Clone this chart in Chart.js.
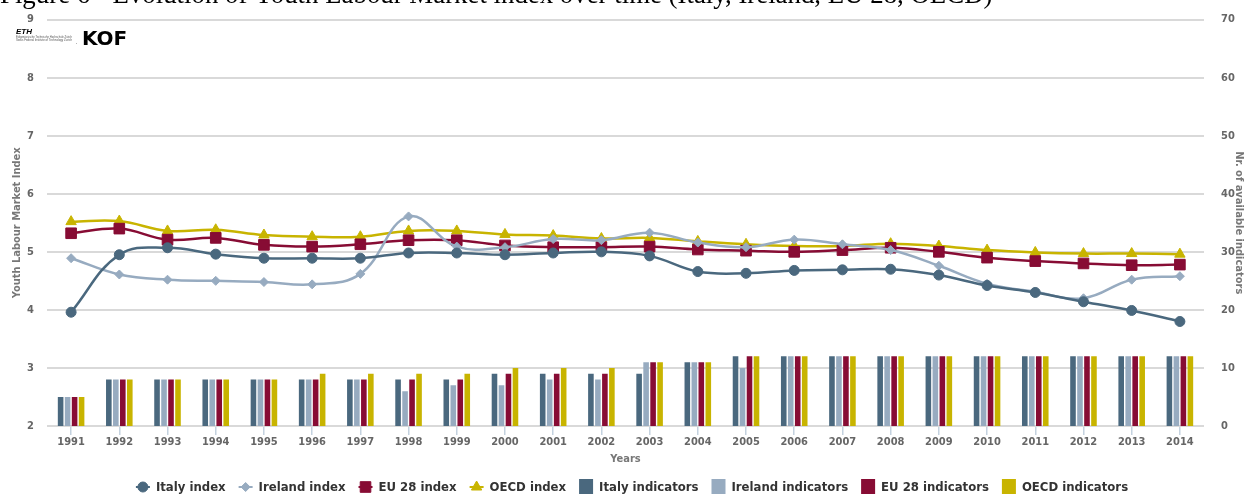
<!doctype html>
<html lang="en">
<head>
<meta charset="utf-8">
<style>
    html, body { margin: 0; padding: 0; background: #fff; }
    #wrap { width: 1245px; height: 494px; }
</style>
</head>
<body>
<div id="wrap"><canvas id="myChart" width="1245" height="494"></canvas></div>

<script src="https://cdn.jsdelivr.net/npm/chart.js"></script>
<script>
    // Data
    const years = ['1991', '1992', '1993', '1994', '1995', '1996', '1997', '1998', '1999', '2000', '2001', '2002',
                   '2003', '2004', '2005', '2006', '2007', '2008', '2009', '2010', '2011', '2012', '2013', '2014'];

    const italyIndex   = [3.96, 4.95, 5.07, 4.96, 4.89, 4.89, 4.89, 4.98, 4.98, 4.95, 4.98, 5.00,
                          4.93, 4.66, 4.63, 4.68, 4.69, 4.70, 4.60, 4.42, 4.30, 4.14, 3.99, 3.80];
    const irelandIndex = [4.89, 4.61, 4.52, 4.50, 4.48, 4.44, 4.62, 5.61, 5.09, 5.08, 5.22, 5.20,
                          5.33, 5.16, 5.08, 5.21, 5.13, 5.03, 4.76, 4.45, 4.31, 4.20, 4.52, 4.58];
    const eu28Index    = [5.32, 5.40, 5.21, 5.24, 5.12, 5.09, 5.13, 5.20, 5.20, 5.11, 5.08, 5.08,
                          5.09, 5.04, 5.02, 5.00, 5.03, 5.07, 5.00, 4.90, 4.84, 4.80, 4.77, 4.78];
    const oecdIndex    = [5.52, 5.53, 5.36, 5.38, 5.29, 5.26, 5.26, 5.36, 5.36, 5.30, 5.28, 5.23,
                          5.24, 5.18, 5.13, 5.10, 5.10, 5.14, 5.10, 5.03, 4.99, 4.97, 4.97, 4.96];

    const italyIndicators   = [5, 8, 8, 8, 8, 8, 8, 8, 8, 9, 9, 9, 9, 11, 12, 12, 12, 12, 12, 12, 12, 12, 12, 12];
    const irelandIndicators = [5, 8, 8, 8, 8, 8, 8, 6, 7, 7, 8, 8, 11, 11, 10, 12, 12, 12, 12, 12, 12, 12, 12, 12];
    const eu28Indicators    = [5, 8, 8, 8, 8, 8, 8, 8, 8, 9, 9, 9, 11, 11, 12, 12, 12, 12, 12, 12, 12, 12, 12, 12];
    const oecdIndicators    = [5, 8, 8, 8, 8, 9, 9, 9, 9, 10, 10, 10, 11, 11, 12, 12, 12, 12, 12, 12, 12, 12, 12, 12];

    const COLORS = {
        italy: '#4a687e',
        ireland: '#97abc0',
        eu: '#870c34',
        oecd: '#c8b400'
    };

    const FAMILY = '"DejaVu Sans Condensed", "DejaVu Sans", sans-serif';
    const tickFont = { family: FAMILY, size: 11, weight: 'bold' };

    function lineSet(label, data, color, style, radius) {
        return {
            type: 'line',
            label: label,
            data: data,
            yAxisID: 'y',
            borderColor: color,
            backgroundColor: color,
            borderWidth: 2.5,
            tension: 0.4,
            pointStyle: style,
            pointRadius: radius,
            pointBorderWidth: 1,
            order: 1
        };
    }

    function barSet(label, data, color) {
        return {
            type: 'bar',
            label: label,
            data: data,
            yAxisID: 'y1',
            backgroundColor: color,
            borderWidth: 0,
            barPercentage: 0.8,
            categoryPercentage: 0.58,
            order: 2
        };
    }

    // caption (cut off at the top), logo and legend row
    const decorations = {
        id: 'decorations',
        afterDraw(chart) {
            const ctx = chart.ctx;
            ctx.save();

            // figure caption, only its lower part is visible
            ctx.fillStyle = '#000';
            ctx.textBaseline = 'alphabetic';
            ctx.textAlign = 'left';
            const caption = 'Figure 6 - Evolution of Youth Labour Market index over time (Italy, Ireland, EU 28, OECD)';
            ctx.font = '22px "Liberation Serif"';
            const w = ctx.measureText(caption).width;
            ctx.font = (22 * 993 / w).toFixed(2) + 'px "Liberation Serif"';
            ctx.fillText(caption, 0, 3);

            // ETH / KOF logo
            ctx.font = 'italic bold 8px "Liberation Sans"';
            ctx.fillText('ETH', 16, 34);
            ctx.fillStyle = '#555';
            ctx.font = '3px "Liberation Sans"';
            ctx.fillText('Eidgenössische Technische Hochschule Zürich', 16, 38, 56);
            ctx.fillText('Swiss Federal Institute of Technology Zurich', 16, 41, 56);
            ctx.fillStyle = '#000';
            ctx.font = 'bold 4px "Liberation Sans"';
            ctx.fillText('.', 76, 44);
            ctx.font = '900 20px "DejaVu Sans"';
            ctx.fillText('KOF', 82, 45);

            // legend
            ctx.font = 'bold 13px ' + FAMILY;
            ctx.textBaseline = 'middle';
            const y = 487;
            const sets = chart.data.datasets;
            const widths = sets.map(ds => 14 + 6 + ctx.measureText(ds.label).width);
            const gap = 13;
            const total = widths.reduce((a, b) => a + b, 0) + gap * (sets.length - 1);
            let x = 632 - total / 2;
            sets.forEach((ds, i) => {
                ctx.fillStyle = ds.backgroundColor;
                ctx.strokeStyle = ds.borderColor || ds.backgroundColor;
                if (ds.type === 'line') {
                    ctx.lineWidth = 2;
                    ctx.beginPath();
                    ctx.moveTo(x, y);
                    ctx.lineTo(x + 14, y);
                    ctx.stroke();
                    ctx.lineWidth = 1;
                    Chart.helpers.drawPoint(ctx, {
                        pointStyle: ds.pointStyle,
                        radius: ds.pointRadius,
                        rotation: 0,
                        borderWidth: 1
                    }, x + 7, y);
                } else {
                    ctx.fillRect(x, y - 8, 14, 16);
                }
                ctx.fillStyle = '#333';
                ctx.fillText(ds.label, x + 20, y + 0.5);
                x += widths[i] + gap;
            });

            ctx.restore();
        }
    };

    const ctx = document.getElementById('myChart');

    new Chart(ctx, {
        data: {
            labels: years,
            datasets: [
                lineSet('Italy index', italyIndex, COLORS.italy, 'circle', 5),
                lineSet('Ireland index', irelandIndex, COLORS.ireland, 'rectRot', 4.5),
                lineSet('EU 28 index', eu28Index, COLORS.eu, 'rect', 7.5),
                lineSet('OECD index', oecdIndex, COLORS.oecd, 'triangle', 6),
                barSet('Italy indicators', italyIndicators, COLORS.italy),
                barSet('Ireland indicators', irelandIndicators, COLORS.ireland),
                barSet('EU 28 indicators', eu28Indicators, COLORS.eu),
                barSet('OECD indicators', oecdIndicators, COLORS.oecd)
            ]
        },
        options: {
            responsive: false,
            animation: false,
            layout: {
                padding: { top: 18, left: 0, right: 0, bottom: 28 }
            },
            plugins: {
                legend: { display: false },
                tooltip: { enabled: false }
            },
            scales: {
                x: {
                    type: 'category',
                    offset: true,
                    border: { display: false },
                    grid: {
                        display: true,
                        drawOnChartArea: false,
                        offset: false,
                        tickLength: 9,
                        color: '#c4d2df',
                        lineWidth: 1.5
                    },
                    ticks: {
                        color: '#666',
                        font: tickFont,
                        padding: 1,
                        maxRotation: 0,
                        autoSkip: false
                    },
                    title: {
                        display: true,
                        text: 'Years',
                        color: '#777',
                        font: tickFont,
                        padding: 0
                    },
                    afterFit(scale) { scale.height = 40; }
                },
                y: {
                    position: 'left',
                    min: 2,
                    max: 9,
                    border: { display: false },
                    grid: {
                        color: '#d9d9d9',
                        lineWidth: 2,
                        drawTicks: false
                    },
                    ticks: {
                        stepSize: 1,
                        color: '#666',
                        font: tickFont,
                        padding: 13
                    },
                    title: {
                        display: true,
                        text: 'Youth Labour Market Index',
                        color: '#777',
                        font: tickFont,
                        padding: { top: 11, bottom: 0 }
                    },
                    afterFit(scale) { scale.width = 47; }
                },
                y1: {
                    position: 'right',
                    min: 0,
                    max: 70,
                    border: { display: false },
                    grid: { display: false },
                    ticks: {
                        stepSize: 10,
                        color: '#666',
                        font: tickFont,
                        padding: 9
                    },
                    title: {
                        display: true,
                        text: 'Nr. of available indicators',
                        color: '#777',
                        font: tickFont,
                        padding: 0
                    },
                    afterFit(scale) { scale.width = 41; }
                }
            }
        },
        plugins: [decorations]
    });
</script>
</body>
</html>
